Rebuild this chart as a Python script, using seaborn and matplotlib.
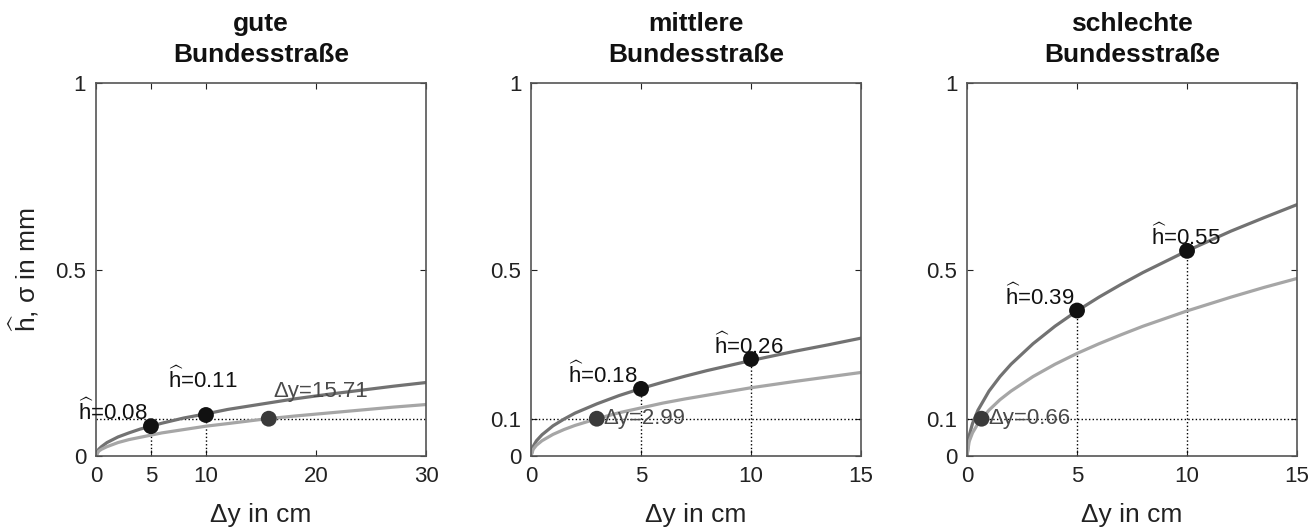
import matplotlib
matplotlib.use('Agg')
import matplotlib.pyplot as plt
import seaborn as sns
import pandas as pd

# values
titles = ['gute\nBundesstraße', 'mittlere\nBundesstraße', 'schlechte\nBundesstraße']

x_gut = [0, 0.25, 0.5, 1, 2, 3, 4, 5, 6, 8, 10, 12, 15, 18, 21, 24, 27, 30]
h_gut = [0, 0.018, 0.025, 0.036, 0.051, 0.062, 0.072, 0.080, 0.088, 0.102, 0.113,
         0.125, 0.139, 0.153, 0.165, 0.176, 0.187, 0.197]
s_gut = [0, 0.013, 0.018, 0.025, 0.036, 0.044, 0.050, 0.056, 0.062, 0.071, 0.080,
         0.087, 0.098, 0.107, 0.115, 0.123, 0.131, 0.138]

x_mit = [0, 0.1, 0.25, 0.5, 1, 1.5, 2, 3, 4, 5, 6, 7, 8, 10, 12, 13.5, 15]
h_mit = [0, 0.026, 0.041, 0.057, 0.081, 0.099, 0.115, 0.140, 0.162, 0.181, 0.198,
         0.214, 0.229, 0.256, 0.281, 0.298, 0.316]
s_mit = [0, 0.018, 0.029, 0.041, 0.058, 0.071, 0.082, 0.100, 0.116, 0.129, 0.142,
         0.153, 0.163, 0.183, 0.200, 0.212, 0.224]

x_sch = [0, 0.1, 0.25, 0.5, 1, 1.5, 2, 3, 4, 5, 6, 7, 8, 10, 12, 13.5, 15]
h_sch = [0, 0.055, 0.087, 0.123, 0.174, 0.213, 0.246, 0.301, 0.348, 0.389, 0.426,
         0.460, 0.492, 0.550, 0.603, 0.639, 0.674]
s_sch = [0, 0.039, 0.062, 0.087, 0.123, 0.151, 0.174, 0.213, 0.246, 0.275, 0.301,
         0.325, 0.348, 0.389, 0.426, 0.452, 0.476]

# marked points: h at 5 and 10 cm, sigma reaching 0.1 mm
h_pts_x = [5, 10]
h_pts = [[0.08, 0.11], [0.18, 0.26], [0.39, 0.55]]
dy_at_01 = [15.71, 2.99, 0.66]

xmax = [30, 15, 15]
xticks = [[0, 5, 10, 20, 30], [0, 5, 10, 15], [0, 5, 10, 15]]
yticks = [[0, 0.5, 1], [0, 0.1, 0.5, 1], [0, 0.1, 0.5, 1]]

# label offsets in pixels (h labels at 5, 10; then sigma label)
h_offs = [[(-38, 15), (-3, 35)], [(-38, 14), (-2, 13)], [(-37, 14), (-1, 14)]]
s_offs = [(52, 27), (7, 0), (7, 0)]
s_ha = ['center', 'left', 'left']

sns.set_theme(style='white')
plt.rcParams['font.family'] = ['Liberation Sans', 'DejaVu Sans']
plt.rcParams['mathtext.fontset'] = 'custom'
plt.rcParams['mathtext.rm'] = 'Liberation Sans'
plt.rcParams['mathtext.it'] = 'Liberation Sans'
HAT = r'$\widehat{\mathrm{h}}$'

fig = plt.figure(figsize=(13.16, 5.27), dpi=100)
lefts = [0.0729, 0.4035, 0.7348]

curves = [(x_gut, h_gut, s_gut), (x_mit, h_mit, s_mit), (x_sch, h_sch, s_sch)]
dark_line = '#727272'
light_line = '#a6a6a6'

for i in range(3):
    ax = fig.add_axes([lefts[i], 0.1347, 0.2508, 0.7078])
    xs, hs, ss = curves[i]
    df = pd.DataFrame({'x': xs + xs, 'y': hs + ss,
                       'kind': ['h'] * len(xs) + ['s'] * len(xs)})
    sns.lineplot(data=df, x='x', y='y', hue='kind',
                 palette={'h': dark_line, 's': light_line},
                 linewidth=2.3, legend=False, ax=ax, zorder=2)

    # dotted guide lines
    ax.plot([0, xmax[i]], [0.1, 0.1], ls=':', color='black', lw=1, zorder=1)
    for xp, yp in zip(h_pts_x, h_pts[i]):
        ax.plot([xp, xp], [0, yp], ls=':', color='black', lw=1, zorder=1)

    pts = pd.DataFrame({'x': h_pts_x, 'y': h_pts[i]})
    sns.scatterplot(data=pts, x='x', y='y', s=130, color='#111111',
                    edgecolor='none', ax=ax, zorder=4)
    sns.scatterplot(x=[dy_at_01[i]], y=[0.1], s=130, color='#3a3a3a',
                    edgecolor='none', ax=ax, zorder=4)

    for (xp, yp), off in zip(zip(h_pts_x, h_pts[i]), h_offs[i]):
        ax.annotate(f'{HAT}={yp:.2f}', (xp, yp), xytext=off, textcoords='offset pixels',
                    ha='center', va='center', fontsize=16, color='#111111',
                    annotation_clip=False, zorder=5)
    ax.annotate(f'Δy={dy_at_01[i]:.2f}', (dy_at_01[i], 0.1), xytext=s_offs[i],
                textcoords='offset pixels', ha=s_ha[i], va='center',
                fontsize=16, color='#4a4a4a', annotation_clip=False, zorder=5)

    ax.set_xlim(0, xmax[i])
    ax.set_ylim(0, 1)
    ax.set_xticks(xticks[i])
    ax.set_yticks(yticks[i])
    ax.set_xticklabels([f'{t:g}' for t in xticks[i]])
    ax.set_yticklabels([f'{t:g}' for t in yticks[i]])
    ax.tick_params(direction='in', length=4, width=0.8, top=True, right=True,
                   bottom=True, left=True, labelsize=16, colors='#222222',
                   pad=7)
    for sp in ax.spines.values():
        sp.set_color('#555555')
        sp.set_linewidth(1.2)
    ax.set_xlabel('Δy in cm', fontsize=19, color='#222222', labelpad=12)
    if i == 0:
        ax.set_ylabel(f'{HAT}, σ in mm', fontsize=19, color='#222222', labelpad=10)
    else:
        ax.set_ylabel('')
    ax.set_title(titles[i], fontsize=19, fontweight='bold', color='#111111',
                 pad=15, linespacing=1.4)

fig.savefig('out.png', dpi=100, facecolor='white')
